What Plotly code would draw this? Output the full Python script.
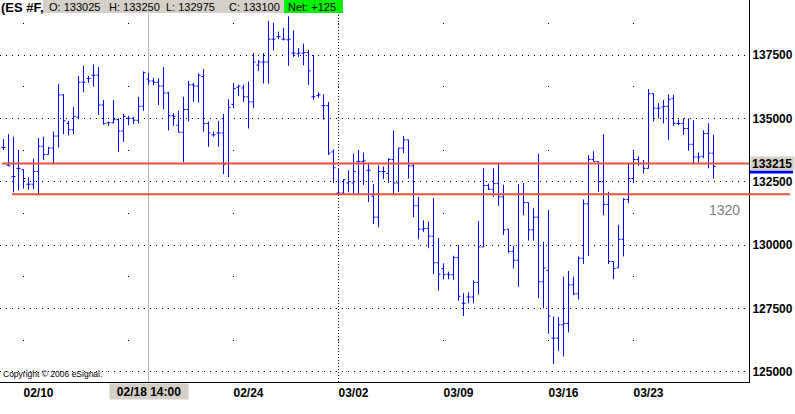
import plotly.graph_objects as go

# ---- data: OHLC bars (ES #F) ----
bar_index = list(range(1, 144))
opens = [133850,133150,132700,133025,132975,132400,132400,132900,133900,133575,
         133825,134300,135925,134800,134550,135050,136425,136575,136700,136700,
         135525,134825,134825,134950,134500,135000,135000,134925,135475,136550,
         136475,136425,136275,136000,135100,134725,134450,135350,136325,136275,
         136650,134800,134350,134425,134425,133225,135550,136225,136200,135850,
         135650,137100,137225,137225,138125,138225,138125,138100,137575,137550,
         137575,137600,135850,135900,135500,135500,133675,132050,132050,132450,
         132450,133300,133300,132950,131925,131100,132900,132825,133375,132450,
         133825,134150,133125,131550,130625,130650,130350,129300,129075,128850,
         128825,129500,127700,127950,127950,128525,129925,132350,132200,132425,
         131900,130625,129750,129400,132025,131675,130600,131100,128550,129000,
         126325,126325,126850,126900,128425,128075,129475,131625,133375,133300,
         132500,131600,129350,129100,130225,131800,132625,133375,133225,133025,
         135975,135400,135450,135475,135775,134800,134800,134600,133975,133475,
         133500,134400,133625]
highs = [134175,134375,134275,133750,132975,132675,133400,134225,134275,133875,
         134475,136350,135950,134900,135450,136675,137075,136675,137125,137025,
         135725,134875,135725,135000,135175,135100,135050,135850,136850,136800,
         136600,136575,137025,136050,135200,135300,135850,136475,136400,136775,
         136950,134875,134475,134900,135175,135750,136400,136325,136325,136450,
         137575,137300,137575,138850,138775,138425,138575,139025,138475,137775,
         137950,137700,137500,136025,135950,135650,133775,133025,132600,132950,
         133600,133750,133650,133250,132400,133150,133100,133425,134525,133825,
         134300,134150,133225,131900,130975,130925,131850,130275,129275,128950,
         129575,130000,128100,128125,128600,130950,133025,132425,133025,133250,
         132375,130625,129975,132400,132450,131675,131450,133600,130125,131375,
         127175,127150,128750,128975,128750,129550,131800,133550,133700,133300,
         134375,132100,129350,130800,131850,133225,133700,133500,133350,136150,
         135975,135600,135725,135950,135925,134950,135000,135000,134925,133650,
         134525,134800,134350]
lows = [133750,133125,132075,132150,132225,132175,132200,131975,133350,133575,
        133225,133850,134375,134325,134375,135000,136025,136400,136250,135150,
        134750,134700,134800,133675,134075,134725,134775,134800,135300,136325,
        136300,135525,135350,134525,134700,134450,133275,134875,135650,135625,
        134475,133875,134275,133875,132800,132675,135400,135875,135650,134600,
        135400,136875,136375,136375,137675,138125,138075,137075,137425,137425,
        137100,136325,135725,135800,134950,133550,132450,131975,132000,132075,
        131975,131975,132375,131700,130825,130700,132600,132450,131975,132100,
        133625,132625,131100,130225,130525,129875,128850,128200,128650,128650,
        128625,127800,127200,127700,127700,128050,129925,132175,131900,131550,
        130400,129675,129075,128350,131175,130175,130175,127900,127500,126500,
        125300,125825,125600,126550,128025,127850,129250,129575,133300,132100,
        131175,129250,128650,129100,129550,131650,132450,133125,132825,133025,
        134875,135000,134800,134150,134700,134725,134350,133725,133200,133250,
        133425,133025,132625]
closes = [133850,133125,132700,133025,132625,132400,132900,133900,133575,133825,
          134300,135925,134900,134550,135075,136425,136425,136575,136700,135525,
          134800,134825,134950,134500,135075,135000,134925,135475,136800,136475,
          136425,136275,136000,135100,135075,134450,135350,136325,136275,136700,
          134800,134425,134350,134425,133175,135425,136175,136275,135850,135650,
          137225,137225,137225,138125,138125,138225,138125,138125,137575,137575,
          137600,136875,135850,135925,135500,133625,133050,132050,132575,132500,
          132900,133300,133325,132950,131100,132900,132900,133375,132450,133825,
          134150,133125,131550,130625,130650,130350,129300,128850,128825,128825,
          129500,127975,127700,127950,128525,129925,132350,132200,132425,131900,
          130600,129750,129400,132025,131675,130600,131100,128550,129100,127200,
          126325,126850,126900,128425,128075,129475,131625,133375,133300,132500,
          131600,129350,129075,130225,131800,132625,133375,133225,133025,135975,
          135400,135400,135475,135750,134800,134800,134600,133975,133475,133475,
          134400,133625,133100]

# axis ticks (02/17 label is hidden under the cursor date box in the original)
week_tick_bars = [5, 26, 47, 68, 89, 110, 127]
week_tick_labels = ["02/10", "", "02/24", "03/02", "03/09", "03/16", "03/23"]
price_ticks = [125000, 127500, 130000, 132500, 135000, 137500]
price_tick_labels = [str(v) for v in price_ticks]

last_price = 133215
support_level = 132000
support_label = "1320"
cursor_bar = 30
cursor_label = "02/18 14:00"
month_break_bar = 68
header_title = "(ES #F,"
header_fields = ["O: 133025", "H: 133250", "L: 132975", "C: 133100"]
header_net = "Net: +125"

# ---- figure ----
PW, PH = 749, 382
fig = go.Figure()
fig.add_trace(go.Ohlc(
    x=bar_index, open=opens, high=highs, low=lows, close=closes,
    increasing=dict(line=dict(color="#0000ff", width=1)),
    decreasing=dict(line=dict(color="#0000ff", width=1)),
    tickwidth=0.4, hoverinfo="skip", showlegend=False,
))

def px(xp):
    return xp / PW

def py(yp):
    return 1 - yp / PH

shapes = []
shapes.append(dict(type="line", xref="x", yref="paper", x0=month_break_bar, x1=month_break_bar,
                   y0=0, y1=1, line=dict(color="black", width=1, dash="1px,2px"), layer="between"))
shapes.append(dict(type="line", xref="x", yref="paper", x0=cursor_bar, x1=cursor_bar,
                   y0=0, y1=1, line=dict(color="#b4b4b4", width=1), layer="between"))
shapes.append(dict(type="line", xref="paper", yref="y", x0=px(2), x1=1, y0=last_price, y1=last_price,
                   line=dict(color="#e5533d", width=2), layer="above"))
shapes.append(dict(type="line", xref="paper", yref="y", x0=px(12), x1=px(790), y0=support_level,
                   y1=support_level, line=dict(color="#e5533d", width=2), layer="above"))
shapes.append(dict(type="line", xref="paper", yref="paper", x0=px(750), x1=px(793), y0=py(172), y1=py(172),
                   line=dict(color="#0000ff", width=3), layer="above"))
shapes.append(dict(type="rect", xref="paper", yref="paper", x0=px(43), x1=px(284), y0=py(13), y1=py(0),
                   fillcolor="#d4d0c8", line=dict(width=0), layer="above"))
shapes.append(dict(type="rect", xref="paper", yref="paper", x0=px(284), x1=px(343), y0=py(13), y1=py(0),
                   fillcolor="#00f000", line=dict(width=0), layer="above"))

annotations = []
annotations.append(dict(text=header_title, xref="paper", yref="paper", x=0, y=py(7), xanchor="left",
                        yanchor="middle", showarrow=False, borderpad=0,
                        font=dict(family="Arial", size=13, color="black", weight="bold")))
for txt, xl in zip(header_fields + [header_net], [48, 108, 165, 228, 287]):
    annotations.append(dict(text=txt, xref="paper", yref="paper", x=px(xl), y=py(6.5), xanchor="left",
                            yanchor="middle", showarrow=False, borderpad=0,
                            font=dict(family="Arial", size=11, color="black")))
annotations.append(dict(text=cursor_label, xref="x", yref="paper", x=cursor_bar, y=0, xanchor="center",
                        yanchor="top", yshift=-1, showarrow=False, bgcolor="#d4d0c8", width=76, height=13,
                        borderpad=1, font=dict(family="Arial", size=12, color="black", weight="bold")))
annotations.append(dict(text=str(last_price), xref="paper", yref="y", x=px(750), y=last_price,
                        xanchor="left", yanchor="middle", showarrow=False, bgcolor="#d4d0c8", width=41,
                        height=11, borderpad=1, align="left",
                        font=dict(family="Arial", size=12, color="black", weight="bold")))
annotations.append(dict(text=support_label, xref="paper", yref="y", x=px(742), y=support_level,
                        xanchor="right", yanchor="top", yshift=-6, showarrow=False,
                        font=dict(family="Arial", size=14, color="#808080")))
annotations.append(dict(text="Copyright \u00a9 2006 eSignal.", xref="paper", yref="paper", x=px(1),
                        y=py(374), xanchor="left", yanchor="middle", showarrow=False,
                        font=dict(family="Arial", size=8.5, color="black")))

fig.update_layout(
    width=795, height=414,
    margin=dict(l=0, r=46, t=0, b=32),
    paper_bgcolor="white", plot_bgcolor="white",
    shapes=shapes, annotations=annotations,
    xaxis=dict(range=[0.3, 150.1], tickvals=week_tick_bars, ticktext=week_tick_labels,
               showline=True, linecolor="black", linewidth=1, ticks="", zeroline=False,
               showgrid=True, gridcolor="black", gridwidth=1, griddash="0px,23px,1px,39.3px",
               ticklabelshift=15, ticklabelstandoff=0,
               tickfont=dict(family="Arial", size=12, color="black", weight="bold"),
               rangeslider=dict(visible=False), fixedrange=True),
    yaxis=dict(range=[124593, 139671], side="right", tickvals=price_ticks, ticktext=price_tick_labels,
               showline=True, linecolor="black", linewidth=1, ticks="", zeroline=False,
               showgrid=True, gridcolor="black", gridwidth=1, griddash="1px,5px",
               ticklabelstandoff=0,
               tickfont=dict(family="Arial", size=12, color="black", weight="bold"), fixedrange=True),
)

fig.write_html("out.html", config={"displayModeBar": False},
               post_script="document.body.style.margin='0';document.body.style.overflow='hidden';")
